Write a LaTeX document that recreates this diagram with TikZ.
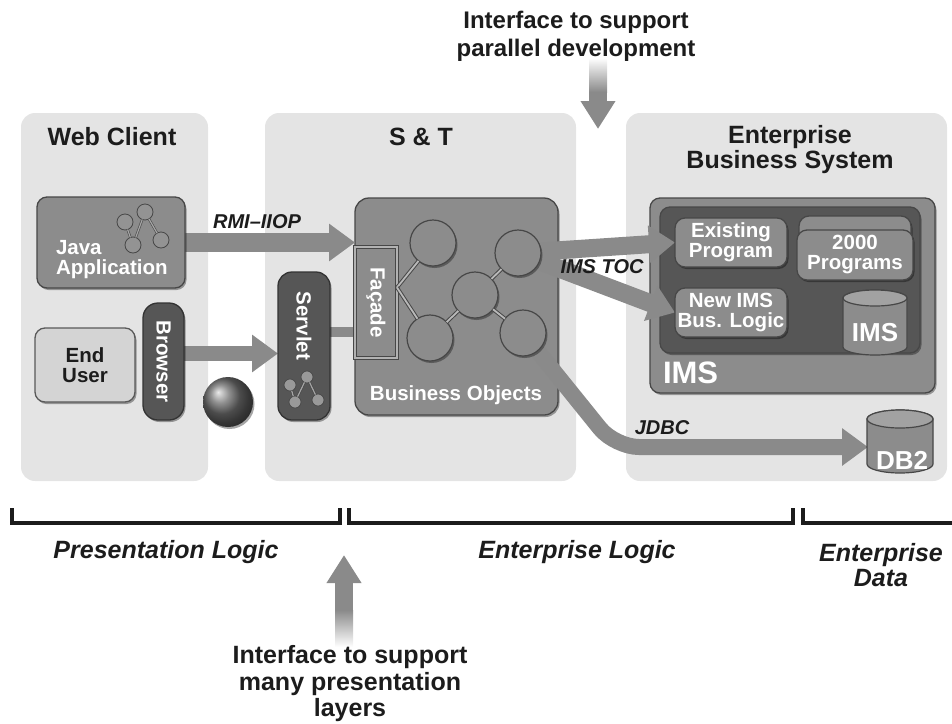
\documentclass[tikz,border=0pt]{standalone}
\usepackage{fontspec}
\setmainfont{Liberation Sans}
\usetikzlibrary{arrows.meta,shadows}
\pgfdeclarelayer{bg}
\pgfdeclarelayer{mid}
\pgfsetlayers{bg,mid,main}

\definecolor{panelbg}{HTML}{E4E4E4}
\definecolor{midgray}{HTML}{8C8C8C}
\definecolor{edgegray}{HTML}{474747}
\definecolor{darkfill}{HTML}{565656}
\definecolor{arrowgray}{HTML}{8A8A8A}
\definecolor{lightfill}{HTML}{D4D4D4}
\definecolor{inkdark}{HTML}{1C1C1C}
\definecolor{cyltopfill}{HTML}{A2A2A2}

\newcommand\tsize[2]{\fontsize{#1pt}{#2pt}\selectfont}

% upright cylinder: centre x, top y, bottom y, x radius, y radius
\newcommand\drum[5]{%
  \path[cylbody] ({#1-#4},{#2+#5}) -- ({#1-#4},{#3-#5})
    arc[start angle=180,end angle=360,x radius=#4pt,y radius=#5pt]
    -- ({#1+#4},{#2+#5})
    arc[start angle=0,end angle=180,x radius=#4pt,y radius=#5pt] -- cycle;
  \path[cyltop] (#1,{#2+#5}) ellipse[x radius=#4pt,y radius=#5pt];
}

\tikzset{
  softshadow/.style={drop shadow={shadow xshift=1.5pt,shadow yshift=-2pt,opacity=.35,fill=black}},
  panel/.style={fill=panelbg, rounded corners=14pt, anchor=north west},
  graybox/.style={fill=midgray, draw=edgegray, line width=1.3pt, rounded corners=10pt, anchor=north west, softshadow},
  pill/.style={fill=darkfill, draw=black!80, line width=1.3pt, rounded corners=15pt, anchor=north west, softshadow},
  obj/.style={circle, minimum size=46pt, fill=midgray, draw=edgegray, line width=1.2pt, softshadow},
  dot/.style={circle, minimum size=16pt, fill=gray!85, draw=edgegray, line width=.8pt},
  smalldot/.style={circle, minimum size=12pt, fill=gray!80, draw=edgegray, line width=.7pt},
  link/.style={draw=edgegray, line width=1pt, double=gray!55, double distance=1.8pt},
  iconlink/.style={draw=edgegray, line width=.6pt, double=gray!70, double distance=1.2pt},
  fat/.style={draw=arrowgray, line width=18pt, -{Triangle[length=26pt,width=36pt]}},
  bar/.style={draw=arrowgray, line width=10pt},
  cylbody/.style={fill=midgray, draw=edgegray, line width=1.2pt},
  cyltop/.style={fill=cyltopfill, draw=edgegray, line width=1.2pt},
  title/.style={font=\tsize{25}{25}\bfseries, text=inkdark, align=center},
  note/.style={font=\tsize{24}{28}\bfseries, text=inkdark, align=center},
  tier/.style={font=\tsize{25}{25}\bfseries\itshape, text=inkdark, align=center},
  flowlabel/.style={font=\tsize{20}{20}\bfseries\itshape, text=inkdark},
  boxtext/.style={font=\tsize{20.5}{20}\bfseries, text=white, align=center},
  bracket/.style={draw=inkdark, line width=3.5pt},
}

\begin{document}
\begin{tikzpicture}[x=1pt,y=-1pt, every node/.style={inner sep=0pt,outer sep=0pt}]
\useasboundingbox (0,0) rectangle (952,723);

% ---------- tier panels and large containers ----------
\begin{pgfonlayer}{bg}
  \node[panel, minimum width=187pt, minimum height=368pt] (webpanel) at (21,113) {};
  \node[panel, minimum width=311pt, minimum height=368pt] (stpanel) at (265,113) {};
  \node[panel, minimum width=321pt, minimum height=368pt] (ebspanel) at (626,113) {};
  \node[graybox, minimum width=285pt, minimum height=195pt] (imsouter) at (650,198) {};
  \node[graybox, fill=darkfill, minimum width=260pt, minimum height=146pt] (imsinner) at (660,207) {};
  \node[graybox, rounded corners=14pt, minimum width=203pt, minimum height=217pt] (bo) at (355,198) {};
\end{pgfonlayer}

% ---------- headings ----------
\node[note] (toptext) at (576,36) {Interface to support\\parallel development};
\node[title] (webtitle) at (112,137) {Web Client};
\node[title] (sttitle) at (421,137) {S \& T};
\node[title] (ebstitle) at (790,150) {Enterprise\\Business System};

% ---------- web client ----------
\node[graybox, minimum width=148pt, minimum height=91pt] (java) at (37,197) {};
\node[boxtext, align=left, anchor=west] (javalabel) at (56,260) {Java\\Application};
\node[dot] (ja) at (125,222) {};
\node[dot] (jb) at (145,212) {};
\node[dot] (jc) at (133,245) {};
\node[dot] (jd) at (161,240) {};
\draw[iconlink] (ja) -- (jc);
\draw[iconlink] (jb) -- (jc);
\draw[iconlink] (jb) -- (jd);

\node[graybox, fill=lightfill, draw=gray!70!black, minimum width=100pt, minimum height=74pt,
      font=\tsize{20.5}{20}\bfseries, text=inkdark, align=center] (enduser) at (35,328) {End\\User};
\node[pill, minimum width=41pt, minimum height=117pt] (browser) at (143,303) {};
\node[boxtext, rotate=-90] (browserlabel) at (browser) {Browser};
\node[circle, minimum size=50pt, ball color=gray!85!black, softshadow] (globe) at (228,402) {};

% ---------- S & T ----------
\node[pill, rounded corners=14pt, minimum width=52pt, minimum height=148pt] (servlet) at (278,272) {};
\node[boxtext, rotate=-90] (servletlabel) at ([yshift=20pt]servlet.center) {Servlet};
\node[smalldot] (sa) at (290,385) {};
\node[smalldot] (sb) at (307,377) {};
\node[smalldot] (sc) at (295,402) {};
\node[smalldot] (sd) at (318,400) {};
\draw[iconlink] (sa) -- (sc);
\draw[iconlink] (sb) -- (sc);
\draw[iconlink] (sb) -- (sd);

\node[fill=midgray, draw=edgegray, line width=1pt, double=gray!60, double distance=1.2pt,
      anchor=north west, minimum width=42pt, minimum height=111pt] (facade) at (355,247) {};
\node[boxtext, rotate=-90] (facadelabel) at (facade) {Façade};

\node[obj] (c1) at (433,243) {};
\node[obj] (c2) at (518,253) {};
\node[obj] (c3) at (475,295) {};
\node[obj] (c4) at (430,338) {};
\node[obj] (c5) at (523,333) {};
\coordinate (fjoin) at ([yshift=15pt]facade.east);
\draw[link] (fjoin) -- (c1);
\draw[link] (fjoin) -- (c4);
\draw[link] (c3) -- (c2);
\draw[link] (c3) -- (c4);
\draw[link] (c3) -- (c5);
\node[boxtext] (bolabel) at (456,395) {Business Objects};

% ---------- enterprise business system ----------
\node[graybox, minimum width=112pt, minimum height=49pt, boxtext] (existing) at (675,218) {Existing\\Program};
\node[graybox, minimum width=112pt, minimum height=46pt] (progback) at (799,216) {};
\node[graybox, minimum width=116pt, minimum height=50pt, boxtext] (programs) at (797,230) {2000\\Programs};
\node[graybox, minimum width=112pt, minimum height=49pt, boxtext] (newims) at (675,288) {New IMS\\Bus. Logic};
\node[anchor=north west, minimum width=64pt, minimum height=65pt] (imsdb) at (843,290) {};
\drum{875}{290}{355}{32}{8}
\node[font=\tsize{26}{26}\bfseries, text=white] (imsdblabel) at (875,333) {IMS};
\node[font=\tsize{31}{31}\bfseries, text=white, anchor=west] (imslabel) at (663,373) {IMS};

\node[anchor=north west, minimum width=65pt, minimum height=63pt] (db2) at (868,410) {};
\drum{900}{410}{473}{33}{9}
\node[font=\tsize{26}{26}\bfseries, text=white] (db2label) at (902,460) {DB2};

% ---------- connector labels ----------
\node[flowlabel] (rmilabel) at (257,222) {RMI–IIOP};
\node[flowlabel] (toclabel) at (602,267) {IMS TOC};
\node[flowlabel] (jdbclabel) at (662,428) {JDBC};

% ---------- tier brackets ----------
\draw[bracket] (12,508) -- (12,523) -- (340,523) -- (340,508);
\draw[bracket] (349,508) -- (349,523) -- (793,523) -- (793,508);
\draw[bracket] (803,508) -- (803,523) -- (952,523);
\node[tier] (presl) at (166,552) {Presentation Logic};
\node[tier] (entl) at (577,552) {Enterprise Logic};
\node[tier] (entd) at (881,565) {Enterprise\\Data};
\node[note, font=\tsize{25}{26.5}\bfseries] (bottext) at (350,684) {Interface to support\\many presentation\\layers};

% ---------- connectors ----------
\coordinate (downtip) at (598,129);
\coordinate (uptip) at (344,555);
\coordinate (jbend) at (615,447);
\begin{pgfonlayer}{mid}
  \draw[fat, line width=19pt] (java.east) -- (java.east -| bo.west);
  \draw[fat, line width=15pt] ([yshift=8pt]browser.east) -- ([yshift=8pt]browser.east -| servlet.west);
  \draw[bar] ([yshift=14pt]servlet.east) -- ([yshift=14pt]servlet.east -| facade.west);
  \draw[fat] (c2) -- (existing.west);
  \draw[fat] (c2) -- (newims.west);
  \draw[fat, line width=16pt, rounded corners=24pt] (c5) -- (jbend) -- (jbend -| db2.west);
  \draw[fat, -{Triangle[length=28pt,width=33pt]}] (toptext.south -| downtip) -- (downtip);
  \shade[top color=white, bottom color=arrowgray] (589,58) rectangle (607,92);
  \draw[fat, -{Triangle[length=28pt,width=33pt]}] (bottext.north -| uptip) -- (uptip);
  \shade[top color=arrowgray, bottom color=white] (335,610) rectangle (353,647);
\end{pgfonlayer}
\end{tikzpicture}
\end{document}
